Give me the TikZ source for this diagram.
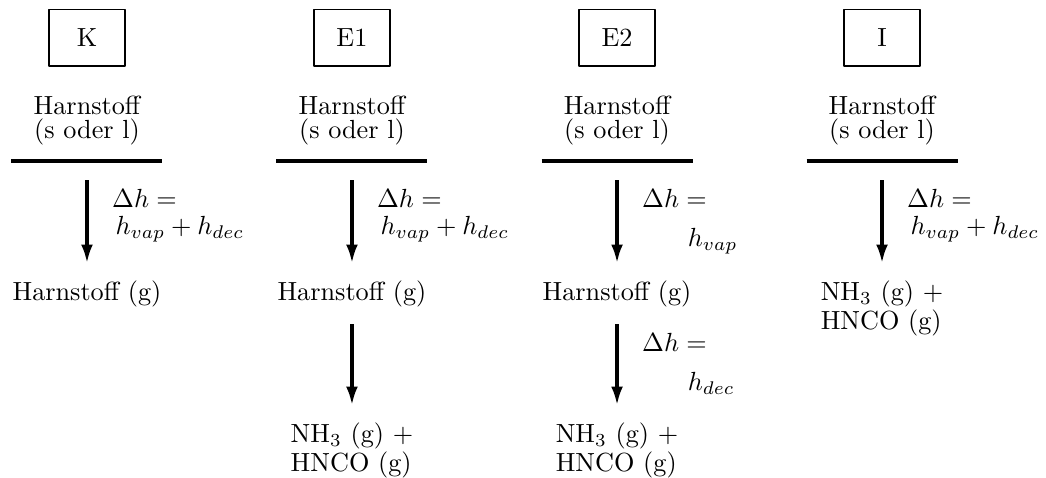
\documentclass[tikz,border=0pt]{standalone}
\usepackage{amsmath,amssymb}
\usepackage{tikz}
\usetikzlibrary{arrows.meta,positioning}
\tikzset{
  every picture/.style={line join=round, >={Latex[length=7pt,width=4.5pt]}},
  casebox/.style={draw, line width=0.5pt, minimum width=1.02cm, minimum height=0.76cm, inner sep=0pt},
  phase/.style={align=center, inner xsep=0pt, inner ysep=5.9pt, minimum width=2.01cm, font=\linespread{0.763}\selectfont},
  species/.style={align=left, inner xsep=0pt, inner ysep=6.5pt, font=\linespread{0.763}\selectfont},
  flow/.style={->, line width=1.2pt},
  bar/.style={line width=1.2pt},
  dh/.style={align=left, inner sep=0pt, font=\linespread{0.86}\selectfont},
}

\begin{document}
\begin{tikzpicture}
\useasboundingbox (0,0) rectangle (14.021,-6.394);
% Fallbezeichnungen
\node[casebox] (boxK) at (1.166,-0.503) {K};
\node[casebox] (boxE1) at (4.718,-0.503) {E1};
\node[casebox] (boxE2) at (8.271,-0.503) {E2};
\node[casebox] (boxI) at (11.823,-0.503) {I};
% Ausgangszustand
\node[phase, anchor=south] (hdrK) at (1.166,-2.158) {Harnstoff\\(s oder l)};
\node[phase, anchor=south] (hdrE1) at (4.718,-2.158) {Harnstoff\\(s oder l)};
\node[phase, anchor=south] (hdrE2) at (8.271,-2.158) {Harnstoff\\(s oder l)};
\node[phase, anchor=south] (hdrI) at (11.823,-2.158) {Harnstoff\\(s oder l)};
\draw[bar] (hdrK.south west) -- (hdrK.south east);
\draw[bar] (hdrE1.south west) -- (hdrE1.south east);
\draw[bar] (hdrE2.south west) -- (hdrE2.south east);
\draw[bar] (hdrI.south west) -- (hdrI.south east);
% Zwischen- und Endprodukte
\node[species, anchor=north] (gasK) at (1.166,-3.525) {Harnstoff (g)};
\node[species, anchor=north] (gasE1) at (4.718,-3.525) {Harnstoff (g)};
\node[species, anchor=north] (gasE2) at (8.271,-3.525) {Harnstoff (g)};
\node[species, anchor=north] (prodI) at (11.823,-3.525) {NH$_3$ (g) +\\HNCO (g)};
\node[species, anchor=north] (prodE1) at (4.718,-5.429) {NH$_3$ (g) +\\HNCO (g)};
\node[species, anchor=north] (prodE2) at (8.271,-5.429) {NH$_3$ (g) +\\HNCO (g)};
% Reaktionspfeile
\draw[flow, shorten <=7.25pt] (hdrK) -- (gasK)
  node[dh, midway, right=9pt, yshift=-1.5pt] {$\Delta h =$\\\hspace*{1.3pt}$h_{vap}+h_{dec}$};
\draw[flow, shorten <=7.25pt] (hdrE1) -- (gasE1)
  node[dh, midway, right=9pt, yshift=-1.5pt] {$\Delta h =$\\\hspace*{1.3pt}$h_{vap}+h_{dec}$};
\draw[flow, shorten <=7.25pt] (hdrE2) -- (gasE2)
  node[dh, midway, right=9pt, yshift=-3.8pt] {$\Delta h =$\\[4.6pt]\hspace*{17.4pt}$h_{vap}$};
\draw[flow, shorten <=7.25pt] (hdrI) -- (prodI)
  node[dh, midway, right=9pt, yshift=-1.5pt] {$\Delta h =$\\\hspace*{1.3pt}$h_{vap}+h_{dec}$};
\draw[flow] (gasE1) -- (prodE1);
\draw[flow] (gasE2) -- (prodE2)
  node[dh, midway, right=9pt, yshift=0.4pt] {$\Delta h =$\\[4.6pt]\hspace*{17.4pt}$h_{dec}$};
\end{tikzpicture}
\end{document}
